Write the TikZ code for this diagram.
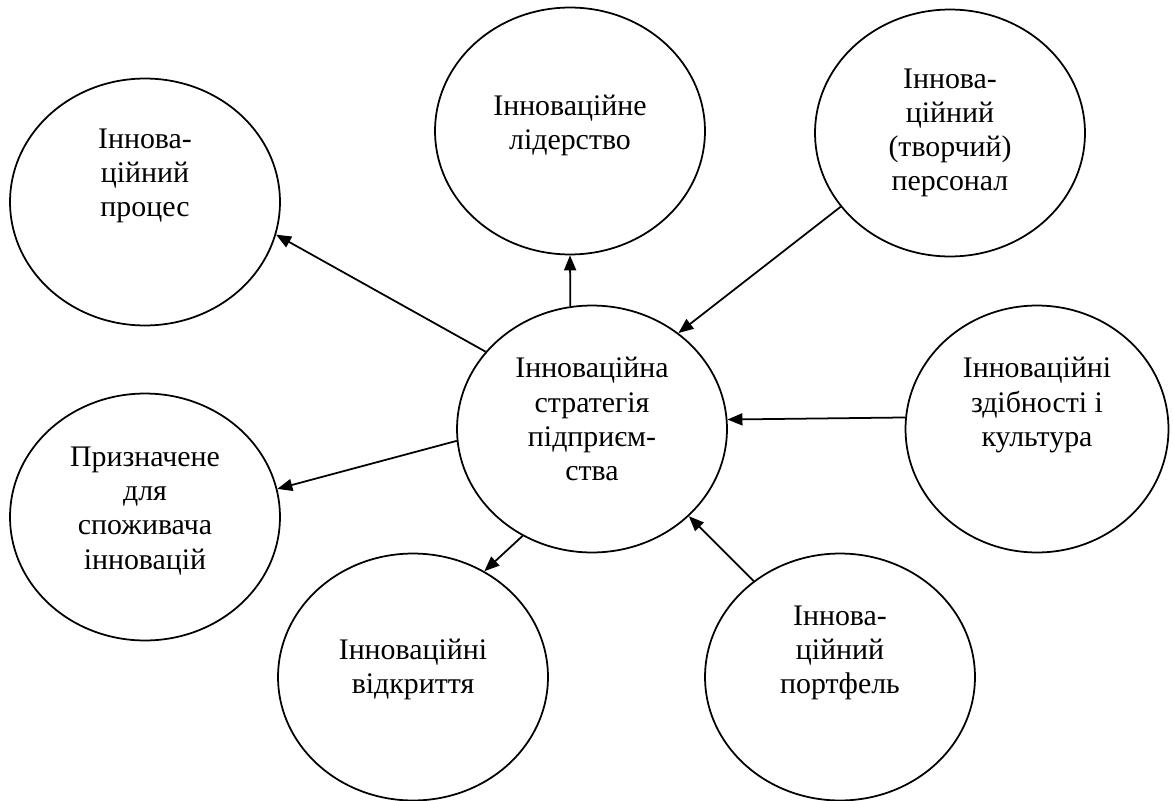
\documentclass[tikz,border=0pt]{standalone}
\usepackage{fontspec}
\setmainfont{Liberation Serif}
\usetikzlibrary{shapes.geometric,arrows.meta}

\begin{document}
\begin{tikzpicture}[x=0.02cm, y=-0.02cm, line width=1pt,
        >={Triangle[length=0.3cm, width=0.24cm]},
        bubble/.style={draw, ellipse, minimum width=5.4cm, minimum height=4.94cm, inner sep=0pt},
        txt/.style={align=center, font=\fontsize{17}{19.4}\selectfont}]
        \useasboundingbox (0,0) rectangle (1173,801);
        % circles
        \node[bubble] (proc) at (145,202) {};
        \node[bubble] (lead) at (570,131) {};
        \node[bubble] (pers) at (950,133) {};
        \node[bubble, minimum width=5.26cm] (abil) at (1037,429) {};
        \node[bubble] (cons) at (145,517) {};
        \node[bubble] (disc) at (413,677) {};
        \node[bubble] (port) at (840,677) {};
        \node[bubble] (hub) at (592,429) {};
        % texts
        \node[txt] (procT) at (145,176) {Іннова-\\ційний\\процес};
        \node[txt] (leadT) at (570,125) {Інноваційне\\лідерство};
        \node[txt] (persT) at (950,133) {Іннова-\\ційний\\(творчий)\\персонал};
        \node[txt] (abilT) at (1037,405) {Інноваційні\\здібності і\\культура};
        \node[txt] (consT) at (145,511) {Призначене\\для\\споживача\\інновацій};
        \node[txt] (discT) at (413,669) {Інноваційні\\відкриття};
        \node[txt] (portT) at (840,653) {Іннова-\\ційний\\портфель};
        \node[txt] (hubT) at (592,419) {Інноваційна\\стратегія\\підприєм-\\ства};
        % arrows
        \foreach \a/\b in {hub.144/proc.-14, hub.100.2/lead.-90, pers.-146/hub.48,
                abil.175/hub.4.7, hub.-175/cons.12, hub.-123/disc.56, port.132/hub.-42}{
            \draw[->] (\a) -- (\b);
        }
\end{tikzpicture}
\end{document}
